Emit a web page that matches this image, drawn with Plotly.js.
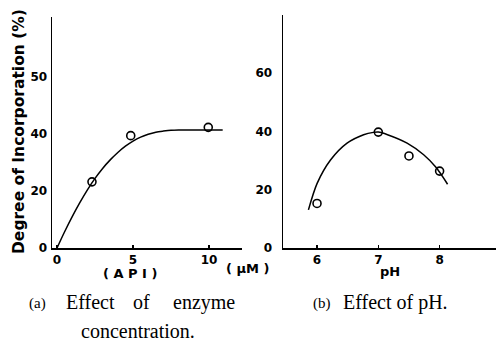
<!DOCTYPE html>
<html><head><meta charset="utf-8">
<script src="https://cdn.plot.ly/plotly-3.0.1.min.js"></script>
<style>html,body{margin:0;padding:0;background:#fff;}#chart{width:496px;height:344px;}</style>
</head><body><div id="chart"></div>
<script>
// Panel (a): enzyme concentration
const apiConc = [2.3, 4.85, 9.95];
const apiIncorp = [23.2, 39.4, 42.3];
const apiCurveX = [0, 0.5, 1, 1.5, 2, 2.5, 3, 3.5, 4, 4.5, 5, 5.5, 6, 6.5, 7, 7.5, 8, 9, 10, 10.9];
const apiCurveY = [0, 5.7, 11, 15.9, 20.4, 24.4, 27.9, 30.9, 33.5, 35.7, 37.5, 38.9, 39.9, 40.6, 41.0, 41.3, 41.4, 41.4, 41.4, 41.4];
const apiTickVals = [0, 5, 10];
const apiTickText = ["0", "5", "10"];
const incTickVals = [0, 20, 40, 60];
const incTickTextA = ["0", "20", "40", "50"];
// Panel (b): pH
const pH = [6, 7, 7.5, 8];
const pHIncorp = [15.3, 39.8, 31.6, 26.4];
const pHCurveX = [5.86, 6.0, 6.22, 6.49, 6.76, 6.92, 7.0, 7.15, 7.47, 7.74, 7.94, 8.13];
const pHCurveY = [13.1, 22.1, 30.2, 36, 38.9, 39.7, 39.8, 38.9, 36, 32, 27.7, 21.9];
const pHTickVals = [6, 7, 8];
const pHTickText = ["6", "7", "8"];
const incTickTextB = ["0", "20", "40", "60"];

const W = 496, H = 344;
const px = v => v / W, py = v => 1 - v / H;

const markerStyle = {symbol: 'circle-open', size: 8, color: '#000', line: {color: '#000', width: 1.6}};

const traces = [
  {x: apiCurveX, y: apiCurveY, mode: 'lines', line: {color: '#000', width: 1.5, shape: 'spline', smoothing: 0.8}, xaxis: 'x', yaxis: 'y'},
  {x: apiConc, y: apiIncorp, mode: 'markers', marker: markerStyle, xaxis: 'x', yaxis: 'y'},
  {x: pHCurveX, y: pHCurveY, mode: 'lines', line: {color: '#000', width: 1.5, shape: 'spline', smoothing: 0.8}, xaxis: 'x2', yaxis: 'y2'},
  {x: pH, y: pHIncorp, mode: 'markers', marker: markerStyle, xaxis: 'x2', yaxis: 'y2'}
];

const tickFont = {family: 'DejaVu Sans, sans-serif', size: 12, color: '#000', weight: 'bold'};
const axisBase = {showgrid: false, zeroline: false, showline: true, linecolor: '#000', linewidth: 1.5, tickfont: tickFont, fixedrange: true};

const sansB = {family: 'DejaVu Sans, sans-serif', size: 13, color: '#000', weight: 'bold'};
const serif = {family: 'Liberation Serif, Times New Roman, serif', size: 20, color: '#000'};
const serifS = {family: 'Liberation Serif, Times New Roman, serif', size: 15, color: '#000'};

function ann(text, x, y, font, extra) {
  return Object.assign({text: text, xref: 'paper', yref: 'paper', x: px(x), y: py(y), xanchor: 'center', yanchor: 'middle', showarrow: false, font: font}, extra || {});
}

const layout = {
  width: W, height: H,
  margin: {l: 0, r: 0, t: 0, b: 0},
  paper_bgcolor: '#fff', plot_bgcolor: '#fff',
  showlegend: false,
  xaxis: Object.assign({}, axisBase, {domain: [px(52), px(242)], range: [-0.33, 12.17], tickvals: apiTickVals, ticktext: apiTickText, ticks: 'inside', ticklen: 3, tickwidth: 1.2, tickcolor: '#000', anchor: 'y', ticklabelstandoff: 0}),
  yaxis: Object.assign({}, axisBase, {domain: [py(248), py(17)], range: [0, 81], tickvals: incTickVals, ticktext: incTickTextA, ticks: '', anchor: 'x', ticklabelstandoff: 1}),
  xaxis2: Object.assign({}, axisBase, {domain: [px(283), px(496)], range: [5.445, 8.92], tickvals: pHTickVals, ticktext: pHTickText, ticks: 'inside', ticklen: 3, tickwidth: 1.2, tickcolor: '#000', anchor: 'y2', ticklabelstandoff: 0}),
  yaxis2: Object.assign({}, axisBase, {domain: [py(248), py(15)], range: [0, 80], tickvals: incTickVals, ticktext: incTickTextB, ticks: '', anchor: 'x2', ticklabelstandoff: 7}),
  annotations: [
    ann('Degree of Incorporation (%)', 19, 132, {family: 'DejaVu Sans, sans-serif', size: 15.5, color: '#000', weight: 'bold'}, {textangle: -90}),
    ann('( A P I )', 130, 273, sansB),
    ann('( μM )', 247, 268.5, sansB),
    ann('pH', 390, 271, sansB),
    ann('(a)', 37.5, 303, serifS),
    ann('Effect', 90, 302, serif),
    ann('of', 141.5, 302, serif),
    ann('enzyme', 203.5, 302, serif),
    ann('concentration.', 138, 331, serif),
    ann('(b)', 321.5, 303, serifS),
    ann('Effect of pH.', 395, 302, serif)
  ]
};

Plotly.newPlot('chart', traces, layout, {staticPlot: true, displayModeBar: false});
</script>
</body></html>
